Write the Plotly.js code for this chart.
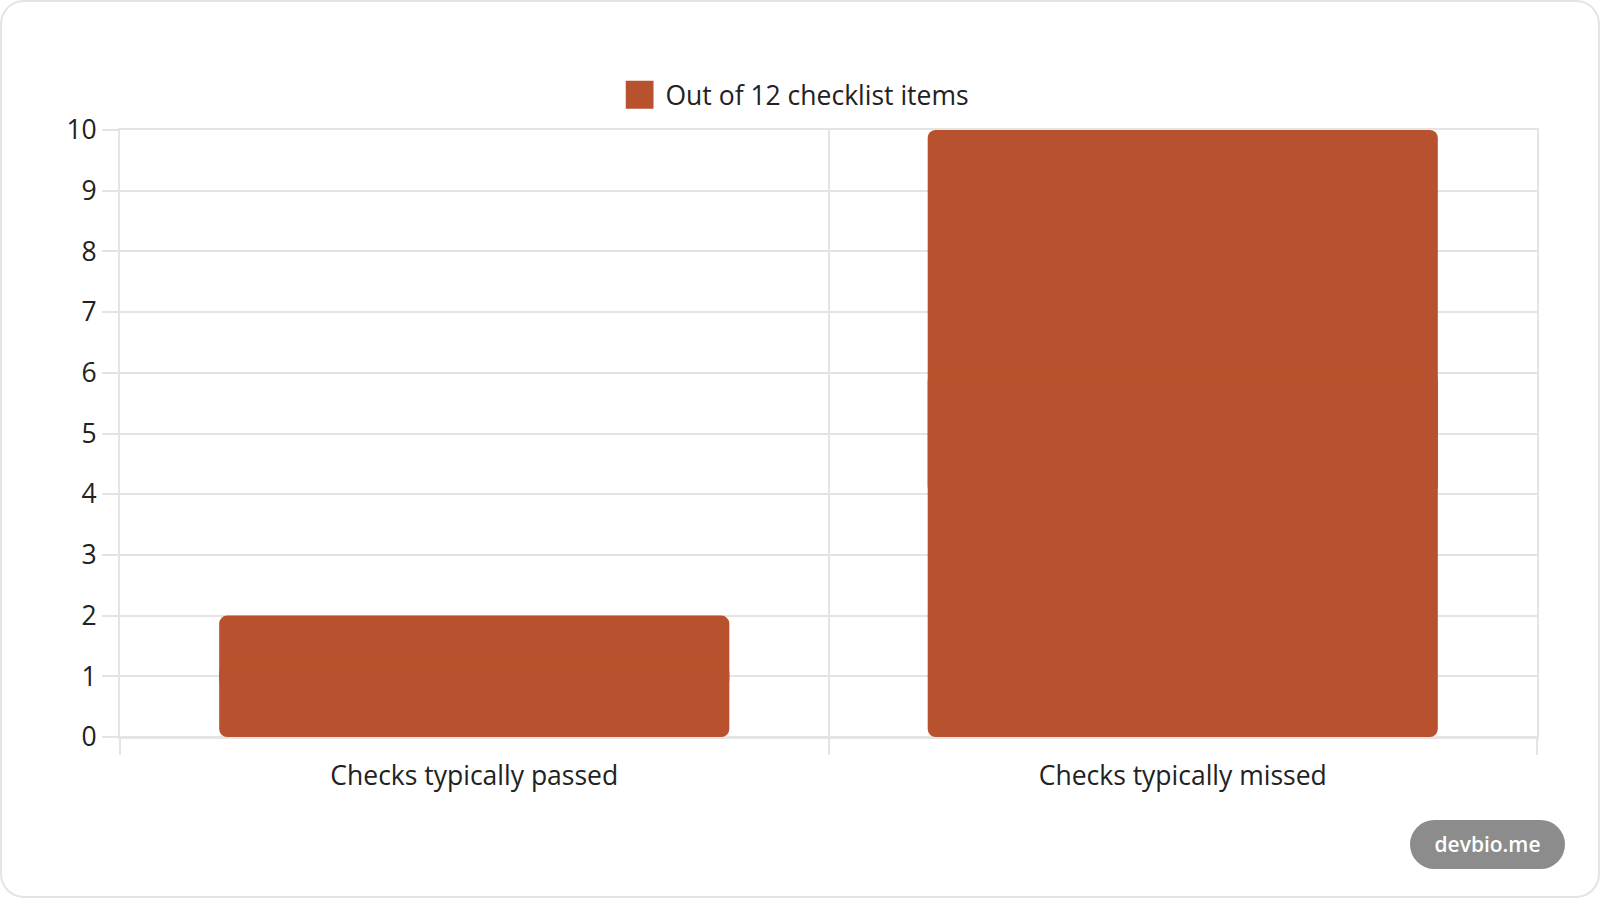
<!DOCTYPE html>
<html>
<head>
<meta charset="utf-8">
<script src="https://cdn.plot.ly/plotly-3.0.1.min.js"></script>
<style>
  html, body { margin: 0; padding: 0; background: #ffffff; }
  #card {
    position: relative;
    width: 1600px; height: 898px;
    box-sizing: border-box;
    border: 2px solid #e4e4e4;
    border-radius: 24px;
    background: #ffffff;
    overflow: hidden;
  }
  #chart { position: absolute; left: -2px; top: -2px; width: 1600px; height: 898px; }
  #badge {
    position: absolute; left: 1408px; top: 818px;
    width: 155px; height: 49px; line-height: 49px;
    border-radius: 25px;
    background: #8c8c8c; color: #ffffff;
    font-family: "Open Sans", sans-serif; font-weight: 600; font-size: 21px;
    text-align: center;
  }
</style>
</head>
<body>
<div id="card">
  <div id="chart"></div>
  <div id="badge">devbio.me</div>
</div>
<script>
var categories = ['Checks typically passed', 'Checks typically missed'];
var counts = [2, 10];
var seriesName = 'Out of 12 checklist items';
var barColor = '#B8512D';

// each bar is drawn as two overlapping halves so both ends get rounded corners
var upperBase = [], upperLen = [], lowerBase = [], lowerLen = [];
for (var iii = 0; iii < counts.length; iii++)
{
    upperBase.push(counts[iii] * 0.4);
    upperLen.push(counts[iii] * 0.6);
    lowerBase.push(counts[iii] * 0.6);
    lowerLen.push(-counts[iii] * 0.6);
}

// opacity just under 1 makes plotly snap bar edges to whole pixels (no seams)
var upper =
{
    x: categories,
    y: upperLen,
    base: upperBase,
    type: 'bar',
    name: seriesName,
    showlegend: false,
    width: 0.72,
    marker: {color: barColor, cornerradius: 8, opacity: 0.999},
    hoverinfo: 'skip'
};
var lower =
{
    x: categories,
    y: lowerLen,
    base: lowerBase,
    type: 'bar',
    name: seriesName,
    showlegend: false,
    width: 0.72,
    marker: {color: barColor, cornerradius: 8, opacity: 0.999},
    hoverinfo: 'skip'
};
// legend entry only
var legendKey =
{
    x: [null],
    y: [null],
    type: 'bar',
    name: seriesName,
    showlegend: true,
    marker: {color: barColor},
    hoverinfo: 'skip'
};

var gridColor = '#e4e4e4';
var layout =
{
    width: 1600,
    height: 898,
    paper_bgcolor: 'rgba(0,0,0,0)',
    plot_bgcolor: 'rgba(0,0,0,0)',
    barmode: 'overlay',
    hovermode: false,
    font: {family: '"Open Sans", sans-serif', size: 26.5, color: '#222222'},
    margin: {l: 120, r: 63, t: 130, b: 161},
    showlegend: true,
    legend:
    {
        orientation: 'h',
        xref: 'container', yref: 'container',
        x: 0.5, xanchor: 'center',
        y: 1 - 95 / 898, yanchor: 'middle',
        font: {size: 26.5, color: '#222222'}
    },
    xaxis:
    {
        type: 'category',
        range: [-0.5, 1.5],
        fixedrange: true,
        tickson: 'boundaries',
        showgrid: true, gridcolor: gridColor, gridwidth: 2,
        ticks: 'outside', ticklen: 16, tickwidth: 2, tickcolor: gridColor,
        ticklabelstandoff: 14,
        showline: true, mirror: true, linecolor: gridColor, linewidth: 2,
        zeroline: false,
        tickfont: {size: 26.5, color: '#222222'}
    },
    yaxis:
    {
        range: [0, 10],
        fixedrange: true,
        dtick: 1,
        showgrid: true, gridcolor: gridColor, gridwidth: 2,
        zeroline: true, zerolinecolor: gridColor, zerolinewidth: 2,
        ticks: 'outside', ticklen: 16, tickwidth: 2, tickcolor: gridColor,
        showline: true, mirror: true, linecolor: gridColor, linewidth: 2,
        tickfont: {size: 26.5, color: '#222222'}
    }
};

Plotly.newPlot('chart', [upper, lower, legendKey], layout, {displayModeBar: false}).then(function()
{
    // bigger square swatch in the legend, like the original, with a gap before the text
    var swatches = document.querySelectorAll('#chart .legend .legendpoints path');
    for (var iii = 0; iii < swatches.length; iii++)
    {
        swatches[iii].setAttribute('d', 'M8,14H-20V-14H8Z');
    }
});
</script>
</body>
</html>
